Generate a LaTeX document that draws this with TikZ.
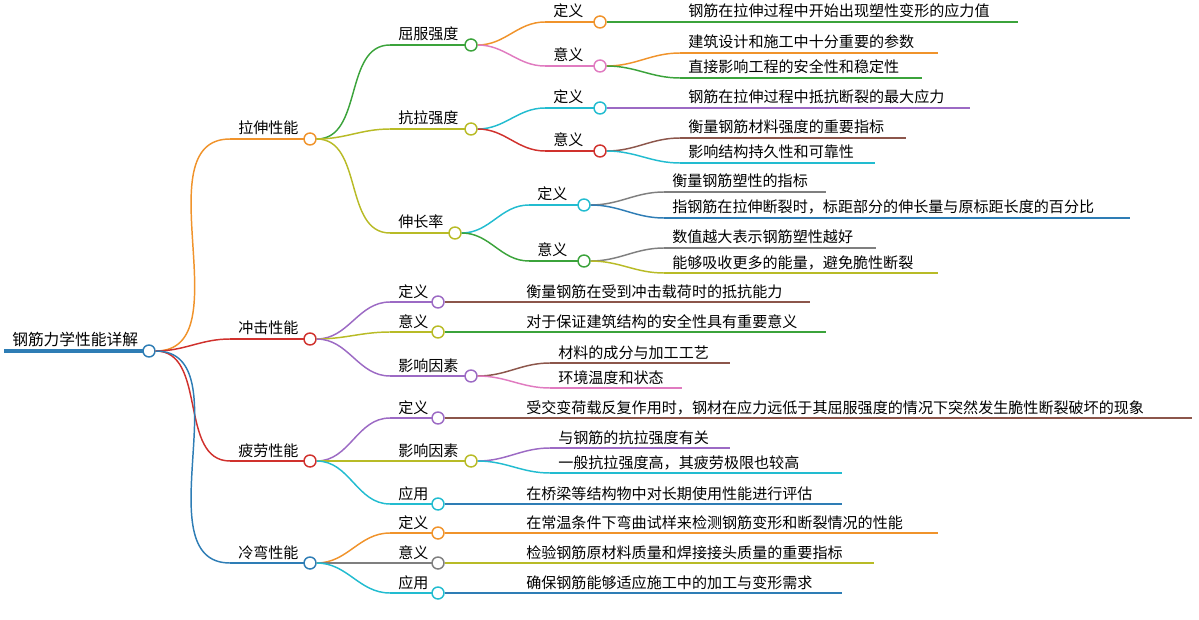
\documentclass[tikz,border=0pt]{standalone}
\usepackage{fontspec}
\setmainfont{Noto Sans CJK SC}
\usetikzlibrary{positioning}
\definecolor{corange}{HTML}{F0932B}
\definecolor{cgreen}{HTML}{3BA33B}
\definecolor{cred}{HTML}{D0312D}
\definecolor{cblue}{HTML}{2E7DB5}
\definecolor{colive}{HTML}{B8BB26}
\definecolor{cpurple}{HTML}{9C6AC4}
\definecolor{cpink}{HTML}{E07BC0}
\definecolor{ccyan}{HTML}{22BCD0}
\definecolor{cbrown}{HTML}{8C564B}
\definecolor{cgray}{HTML}{7F7F7F}
% topic with circle: name, x0, x1, y, colour, text
\newcommand\mmtopic[6]{%
  \draw[#5, line width=1.1pt] (#2,#4) coordinate (#1-s) -- (#3-6,#4);
  \node[mmtext, anchor=base west] (#1) at (#2+8,#4-5) {#6};
  \node[knot, draw=#5] (#1-c) at (#3,#4) {};}
% leaf without circle
\newcommand\mmleaf[6]{%
  \draw[#5, line width=1.1pt] (#2,#4) coordinate (#1-s) -- (#3,#4) coordinate (#1-e);
  \node[mmtext, anchor=base west] (#1) at (#2+8,#4-5) {#6};}
\newcommand\mmlink[3]{\draw[#3, line width=1.1pt] (#1-c.east) to[out=0, in=180] (#2-s);}
\begin{document}
\begin{tikzpicture}[x=0.75pt, y=-0.75pt,
    mmtext/.style={inner sep=0pt, font=\fontsize{11.3pt}{13pt}\selectfont},
    knot/.style={circle, fill=white, line width=1.1pt, minimum size=9pt, inner sep=0pt}]
    \useasboundingbox (0,0) rectangle (1199,620);

    % Root
    \draw[cblue, line width=2.4pt] (4,351) -- (143,351);
    \node[mmtext, anchor=base west, font=\fontsize{11.8pt}{13pt}\selectfont] (root) at (12,345) {钢筋力学性能详解};
    \node[knot, draw=cblue] (root-c) at (149,351) {};

    % 拉伸性能
    \mmtopic{ls}{230}{310}{139}{corange}{拉伸性能}
    \mmtopic{qf}{390}{471}{45}{cgreen}{屈服强度}
    \mmtopic{qfdy}{545}{600}{22}{corange}{定义}
    \mmtopic{qfyy}{545}{600}{66}{cpink}{意义}
    \mmleaf{qfa}{680}{1018}{22}{cgreen}{钢筋在拉伸过程中开始出现塑性变形的应力值}
    \mmleaf{qfb}{680}{938}{53}{corange}{建筑设计和施工中十分重要的参数}
    \mmleaf{qfc}{680}{922}{78}{cgreen}{直接影响工程的安全性和稳定性}
    \mmtopic{kl}{390}{471}{129}{colive}{抗拉强度}
    \mmtopic{kldy}{545}{600}{108}{ccyan}{定义}
    \mmtopic{klyy}{545}{600}{151}{cred}{意义}
    \mmleaf{kla}{680}{970}{108}{cpurple}{钢筋在拉伸过程中抵抗断裂的最大应力}
    \mmleaf{klb}{680}{906}{138}{cbrown}{衡量钢筋材料强度的重要指标}
    \mmleaf{klc}{680}{875}{163}{ccyan}{影响结构持久性和可靠性}
    \mmtopic{sc}{390}{455}{233}{colive}{伸长率}
    \mmtopic{scdy}{529}{584}{205}{ccyan}{定义}
    \mmtopic{scyy}{529}{584}{261}{cgreen}{意义}
    \mmleaf{sca}{664}{826}{192}{cgray}{衡量钢筋塑性的指标}
    \mmleaf{scb}{664}{1130}{218}{cblue}{指钢筋在拉伸断裂时，标距部分的伸长量与原标距长度的百分比}
    \mmleaf{scc}{664}{876}{248}{cgray}{数值越大表示钢筋塑性越好}
    \mmleaf{scd}{664}{938}{273}{colive}{能够吸收更多的能量，避免脆性断裂}

    % 冲击性能
    \mmtopic{cj}{230}{310}{339}{cred}{冲击性能}
    \mmtopic{cjdy}{390}{438}{302}{cpurple}{定义}
    \mmtopic{cjyy}{390}{438}{332}{colive}{意义}
    \mmtopic{cjys}{390}{471}{376}{cpurple}{影响因素}
    \mmleaf{cja}{518}{810}{302}{cbrown}{衡量钢筋在受到冲击载荷时的抵抗能力}
    \mmleaf{cjb}{518}{826}{332}{cgreen}{对于保证建筑结构的安全性具有重要意义}
    \mmleaf{cjc}{550}{730}{363}{cbrown}{材料的成分与加工工艺}
    \mmleaf{cjd}{550}{682}{388}{cpink}{环境温度和状态}

    % 疲劳性能
    \mmtopic{pl}{230}{310}{461}{cred}{疲劳性能}
    \mmtopic{pldy}{390}{438}{418}{cpurple}{定义}
    \mmtopic{plys}{390}{471}{461}{colive}{影响因素}
    \mmtopic{plyy}{390}{438}{504}{ccyan}{应用}
    \mmleaf{pla}{518}{1192}{418}{cbrown}{受交变荷载反复作用时，钢材在应力远低于其屈服强度的情况下突然发生脆性断裂破坏的现象}
    \mmleaf{plb}{550}{730}{448}{cpurple}{与钢筋的抗拉强度有关}
    \mmleaf{plc}{550}{842}{473}{ccyan}{一般抗拉强度高，其疲劳极限也较高}
    \mmleaf{pld}{518}{842}{504}{cblue}{在桥梁等结构物中对长期使用性能进行评估}

    % 冷弯性能
    \mmtopic{lw}{230}{310}{563}{cblue}{冷弯性能}
    \mmtopic{lwdy}{390}{438}{533}{corange}{定义}
    \mmtopic{lwyy}{390}{438}{563}{cgray}{意义}
    \mmtopic{lwyong}{390}{438}{593}{ccyan}{应用}
    \mmleaf{lwa}{518}{938}{533}{corange}{在常温条件下弯曲试样来检测钢筋变形和断裂情况的性能}
    \mmleaf{lwb}{518}{874}{563}{colive}{检验钢筋原材料质量和焊接接头质量的重要指标}
    \mmleaf{lwc}{518}{842}{593}{cblue}{确保钢筋能够适应施工中的加工与变形需求}

    % Connectors
    \mmlink{root}{ls}{corange} \mmlink{root}{cj}{cred}
    \mmlink{root}{pl}{cred} \mmlink{root}{lw}{cblue}
    \mmlink{ls}{qf}{cgreen} \mmlink{ls}{kl}{colive} \mmlink{ls}{sc}{colive}
    \mmlink{qf}{qfdy}{corange} \mmlink{qf}{qfyy}{cpink}
    \mmlink{qfdy}{qfa}{cgreen} \mmlink{qfyy}{qfb}{corange} \mmlink{qfyy}{qfc}{cgreen}
    \mmlink{kl}{kldy}{ccyan} \mmlink{kl}{klyy}{cred}
    \mmlink{kldy}{kla}{cpurple} \mmlink{klyy}{klb}{cbrown} \mmlink{klyy}{klc}{ccyan}
    \mmlink{sc}{scdy}{ccyan} \mmlink{sc}{scyy}{cgreen}
    \mmlink{scdy}{sca}{cgray} \mmlink{scdy}{scb}{cblue}
    \mmlink{scyy}{scc}{cgray} \mmlink{scyy}{scd}{colive}
    \mmlink{cj}{cjdy}{cpurple} \mmlink{cj}{cjyy}{colive} \mmlink{cj}{cjys}{cpurple}
    \mmlink{cjdy}{cja}{cbrown} \mmlink{cjyy}{cjb}{cgreen}
    \mmlink{cjys}{cjc}{cbrown} \mmlink{cjys}{cjd}{cpink}
    \mmlink{pl}{pldy}{cpurple} \mmlink{pl}{plys}{colive} \mmlink{pl}{plyy}{ccyan}
    \mmlink{pldy}{pla}{cbrown} \mmlink{plys}{plb}{cpurple}
    \mmlink{plys}{plc}{ccyan} \mmlink{plyy}{pld}{cblue}
    \mmlink{lw}{lwdy}{corange} \mmlink{lw}{lwyy}{cgray} \mmlink{lw}{lwyong}{ccyan}
    \mmlink{lwdy}{lwa}{corange} \mmlink{lwyy}{lwb}{colive} \mmlink{lwyong}{lwc}{cblue}
\end{tikzpicture}
\end{document}
